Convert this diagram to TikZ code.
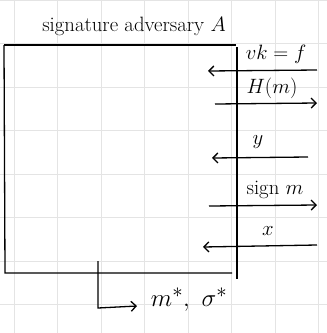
\documentclass[tikz,border=0pt]{standalone}
\usepackage{amsmath,amssymb}
\usepackage{xcolor}
\usepackage{tikz}
\usetikzlibrary{arrows.meta}
\definecolor{rejilla}{RGB}{228,228,228}

\begin{document}
\begin{tikzpicture}[x=1pt, y=-1pt, >={Straight Barb[length=5pt,width=10pt]}, line width=1.3pt]
    \useasboundingbox (0,0) rectangle (327,333);
    % rejilla de fondo
    \foreach \gx in {14,57.5,...,320} \draw[rejilla,line width=0.8pt] (\gx,0)--(\gx,333);
    \foreach \gy in {0,43.5,...,333} \draw[rejilla,line width=0.8pt] (0,\gy)--(327,\gy);
    % caja del adversario
    \node[font=\huge] (titulo) at (134,26) {signature adversary $A$};
    \draw (4,45)--(236,45);
    \draw (4,45)--(5,273)--(232,273);
    \draw (237,47)--(237,279);
    % mensajes por la derecha
    \coordinate (vk-a) at (317,70); \coordinate (vk-b) at (208,71);
    \draw[->] (vk-a)--(vk-b);
    \node[font=\huge] (vk) at (276,54) {$vk=f$};
    \coordinate (hm-a) at (215,104); \coordinate (hm-b) at (317,103);
    \draw[->] (hm-a)--(hm-b);
    \node[font=\huge] (hm) at (272,88) {$H(m)$};
    \coordinate (y-a) at (308,157); \coordinate (y-b) at (212,158);
    \draw[->] (y-a)--(y-b);
    \node[font=\huge] (ye) at (258,142) {$y$};
    \coordinate (sg-a) at (209,206); \coordinate (sg-b) at (317,205);
    \draw[->] (sg-a)--(sg-b);
    \node[font=\huge] (sg) at (275,190) {sign $m$};
    \coordinate (x-a) at (317,245); \coordinate (x-b) at (203,247);
    \draw[->] (x-a)--(x-b);
    \node[font=\huge] (ex) at (268,231) {$x$};
    % salida
    \coordinate (out-a) at (98,261); \coordinate (out-b) at (137,306);
    \draw[->] (out-a)--(98,308)--(out-b);
    \node[font=\Huge,anchor=west] (salida) at (147,300) {$m^*,\ \sigma^*$};
\end{tikzpicture}
\end{document}
